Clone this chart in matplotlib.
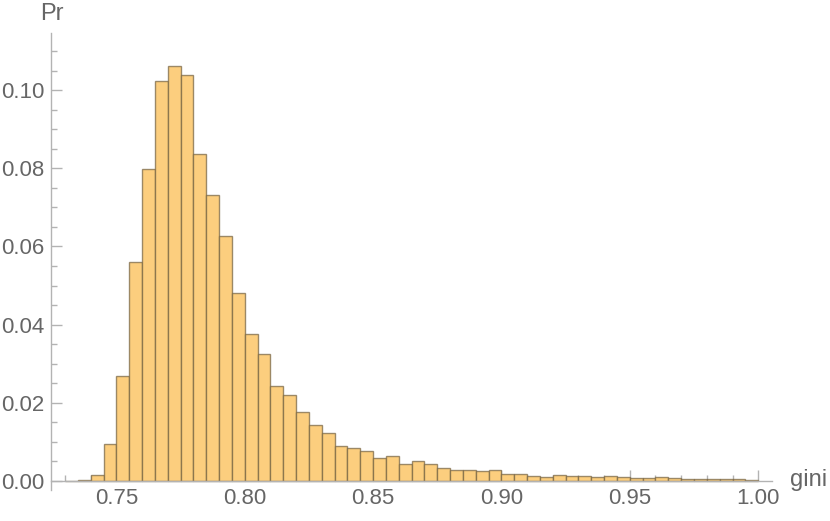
# Histogram of gini values (Mathematica-style look)

import matplotlib.pyplot as plt
import numpy as np

plt.rcParams['font.family'] = ['Liberation Sans', 'DejaVu Sans']

# Bin edges: 0.730 .. 1.000 step 0.005
bin_start = 0.730
bin_width = 0.005
probs = [0.0001, 0.0003, 0.0015, 0.0094, 0.0269, 0.0560, 0.0797, 0.1023, 0.1062, 0.1038,
         0.0836, 0.0731, 0.0627, 0.0482, 0.0376, 0.0325, 0.0244, 0.0220, 0.0176, 0.0142,
         0.0124, 0.0090, 0.0084, 0.0078, 0.0058, 0.0064, 0.0044, 0.0051, 0.0043, 0.0034,
         0.0029, 0.0027, 0.0025, 0.0027, 0.0019, 0.0017, 0.0014, 0.0009, 0.0016, 0.0013,
         0.0012, 0.0010, 0.0012, 0.0011, 0.0008, 0.0007, 0.0010, 0.0007, 0.0005, 0.0006,
         0.0005, 0.0005, 0.0004, 0.0003]
edges = bin_start + bin_width * np.arange(len(probs) + 1)

x_ticks = [0.75, 0.80, 0.85, 0.90, 0.95, 1.00]
y_ticks = [0.00, 0.02, 0.04, 0.06, 0.08, 0.10]

axis_col = "#b3b3b3"
text_col = "#666666"

fig = plt.figure(figsize=(8.3, 5.21), dpi=100)
ax = fig.add_axes([0.0614, 0.0595, 0.9298 - 0.0614, 0.9367 - 0.0595])

ax.bar(edges[:-1], probs, width=bin_width, align="edge",
       color="#fcce7e", edgecolor=(0.45, 0.38, 0.25, 0.7), linewidth=1.0, zorder=2)

ax.set_xlim(0.72452, 1.00528)
ax.set_ylim(-0.0023, 0.1146)

for s in ["top", "right"]:
    ax.spines[s].set_visible(False)
ax.spines["bottom"].set_position(("data", 0))
for s in ["left", "bottom"]:
    ax.spines[s].set_color(axis_col)
    ax.spines[s].set_linewidth(1.0)
    ax.spines[s].set_zorder(3)

ax.set_xticks(x_ticks)
ax.set_xticklabels([f"{t:.2f}" for t in x_ticks])
ax.set_xticks(np.arange(0.73, 1.0, 0.01), minor=True)
ax.set_yticks(y_ticks)
ax.set_yticklabels([f"{t:.2f}" for t in y_ticks])
ax.set_yticks(np.arange(0.005, 0.1101, 0.005), minor=True)

ax.tick_params(axis="both", which="major", direction="in", length=8, width=1,
               color=axis_col, labelcolor=text_col, labelsize=16, pad=5)
ax.tick_params(axis="both", which="minor", direction="in", length=4.5, width=1,
               color=axis_col)
ax.tick_params(axis="x", which="both", top=False)

fig.text(52 / 830, 1 - 14 / 521, "Pr", color=text_col, fontsize=17,
         ha="center", va="center")
fig.text(809 / 830, 1 - 480 / 521, "gini", color=text_col, fontsize=17,
         ha="center", va="center")

fig.savefig("out.png", dpi=100)
